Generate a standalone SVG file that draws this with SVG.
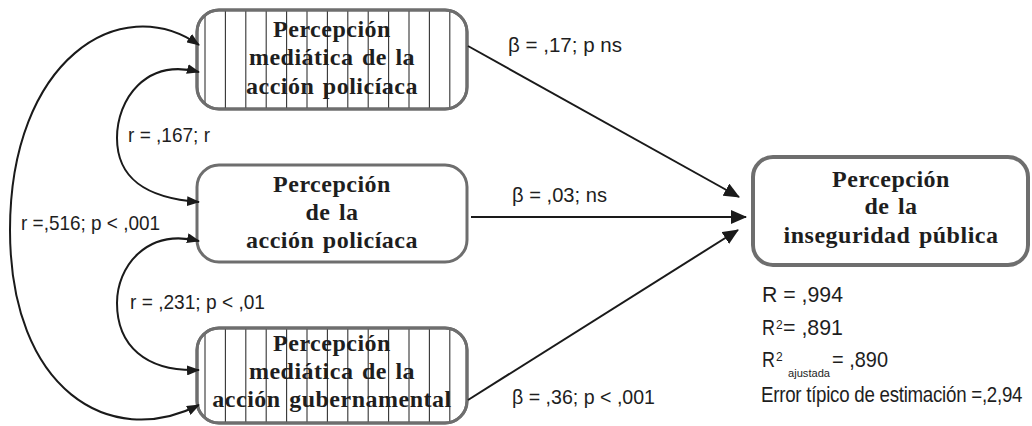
<svg xmlns="http://www.w3.org/2000/svg" width="1032" height="426" viewBox="0 0 1032 426">
<style>
.box{fill:#fff;stroke:#6e6e6e;stroke-width:3}
.box2{fill:#fff;stroke:#6e6e6e;stroke-width:4}
.hatch{stroke:#333;stroke-width:1.1}
.title{font-family:"Liberation Serif","Times New Roman",serif;font-weight:bold;font-size:24px;fill:#1e1e1e;text-anchor:middle;letter-spacing:0.5px;word-spacing:2px}
.lbl{font-family:"Liberation Sans Narrow","Liberation Sans",Arial,sans-serif;font-size:21px;fill:#1e1e1e}
.st{font-family:"Liberation Sans Narrow","Liberation Sans",Arial,sans-serif;font-size:22px;fill:#1e1e1e}
.sm{font-family:"Liberation Sans Narrow","Liberation Sans",Arial,sans-serif;font-size:12px;fill:#1e1e1e}
.xs{font-family:"Liberation Sans Narrow","Liberation Sans",Arial,sans-serif;font-size:10px;fill:#1e1e1e}
.edge{fill:none;stroke:#1a1a1a;stroke-width:2}
</style>
<defs>
<marker id="ah" viewBox="0 0 16 14" refX="15" refY="7" markerWidth="16" markerHeight="14" markerUnits="userSpaceOnUse" orient="auto"><path d="M0,0 L16,7 L0,14 z" fill="#1a1a1a"/></marker>
<marker id="as" viewBox="0 0 13 10" refX="12" refY="5" markerWidth="13" markerHeight="10" markerUnits="userSpaceOnUse" orient="auto-start-reverse"><path d="M0,0 L13,5 L0,10 z" fill="#1a1a1a"/></marker>
<clipPath id="c1"><rect x="197" y="10" width="270" height="99" rx="22"/></clipPath>
<clipPath id="c3"><rect x="197" y="328" width="270" height="95" rx="22"/></clipPath>
<g id="hl" class="hatch">
<line x1="205" y1="0" x2="205" y2="120"/><line x1="225.4" y1="0" x2="225.4" y2="120"/><line x1="245.8" y1="0" x2="245.8" y2="120"/><line x1="266.2" y1="0" x2="266.2" y2="120"/><line x1="286.6" y1="0" x2="286.6" y2="120"/><line x1="307" y1="0" x2="307" y2="120"/><line x1="327.4" y1="0" x2="327.4" y2="120"/><line x1="347.8" y1="0" x2="347.8" y2="120"/><line x1="368.2" y1="0" x2="368.2" y2="120"/><line x1="388.6" y1="0" x2="388.6" y2="120"/><line x1="409" y1="0" x2="409" y2="120"/><line x1="429.4" y1="0" x2="429.4" y2="120"/><line x1="449.8" y1="0" x2="449.8" y2="120"/>
</g>
</defs>
<rect width="1032" height="426" fill="#fff"/>

<g id="node-mediatica-policiaca">
<rect class="box" x="197" y="10" width="270" height="99" rx="22"/>
<g clip-path="url(#c1)"><use href="#hl" y="0"/></g>
<rect x="197" y="10" width="270" height="99" rx="22" fill="none" stroke="#6e6e6e" stroke-width="3"/>
<text class="title" x="332" y="37">Percepción</text>
<text class="title" x="332" y="65">mediática de la</text>
<text class="title" x="332" y="94">acción policíaca</text>
</g>

<g id="node-accion-policiaca">
<rect class="box" x="197" y="165" width="270" height="97" rx="22"/>
<text class="title" x="332" y="192">Percepción</text>
<text class="title" x="332" y="220">de la</text>
<text class="title" x="332" y="248">acción policíaca</text>
</g>

<g id="node-mediatica-gubernamental">
<rect class="box" x="197" y="328" width="270" height="95" rx="22"/>
<g clip-path="url(#c3)"><use href="#hl" y="318"/></g>
<rect x="197" y="328" width="270" height="95" rx="22" fill="none" stroke="#6e6e6e" stroke-width="3"/>
<text class="title" x="332" y="351">Percepción</text>
<text class="title" x="332" y="379">mediática de la</text>
<text class="title" x="332" y="407">acción gubernamental</text>
</g>

<g id="node-inseguridad">
<rect class="box2" x="753" y="157" width="275" height="108" rx="20"/>
<text class="title" x="891" y="187">Percepción</text>
<text class="title" x="891" y="214">de la</text>
<text class="title" x="891" y="243">inseguridad pública</text>
</g>

<g id="connectors">
<line class="edge" x1="468" y1="46" x2="739" y2="197" marker-end="url(#ah)"/>
<line class="edge" x1="471" y1="217" x2="746" y2="217" marker-end="url(#ah)"/>
<line class="edge" x1="468" y1="400" x2="738" y2="230" marker-end="url(#ah)"/>
<path class="edge" d="M199,45 C120,-10 10,60 10,230 C10,390 110,450 199,405" marker-start="url(#as)" marker-end="url(#as)"/>
<path class="edge" d="M199,72 C145,58 117,100 117,138 C117,178 145,198 199,202" marker-start="url(#as)" marker-end="url(#as)"/>
<path class="edge" d="M199,241 C145,228 117,268 117,303 C117,345 145,372 199,370" marker-start="url(#as)" marker-end="url(#as)"/>
</g>

<g id="labels">
<text class="lbl" x="508" y="52" textLength="114" lengthAdjust="spacingAndGlyphs">β = ,17; p ns</text>
<text class="lbl" x="512" y="202" textLength="95" lengthAdjust="spacingAndGlyphs">β = ,03; ns</text>
<text class="lbl" x="512" y="404" textLength="143" lengthAdjust="spacingAndGlyphs">β = ,36; p &lt; ,001</text>
<text class="lbl" x="128" y="142" textLength="82" lengthAdjust="spacingAndGlyphs">r = ,167; r</text>
<text class="lbl" x="21" y="230" textLength="139" lengthAdjust="spacingAndGlyphs">r =,516; p &lt; ,001</text>
<text class="lbl" x="130" y="309" textLength="135" lengthAdjust="spacingAndGlyphs">r = ,231; p &lt; ,01</text>
</g>

<g id="stats">
<text class="st" x="762" y="302" textLength="81" lengthAdjust="spacingAndGlyphs">R = ,994</text>
<text class="st" x="762" y="335" textLength="13" lengthAdjust="spacingAndGlyphs">R</text>
<text class="sm" x="776" y="329">2</text>
<text class="st" x="783" y="335" textLength="60" lengthAdjust="spacingAndGlyphs">= ,891</text>
<text class="st" x="762" y="367" textLength="13" lengthAdjust="spacingAndGlyphs">R</text>
<text class="sm" x="776" y="361">2</text>
<text class="xs" x="788" y="377" textLength="42" lengthAdjust="spacingAndGlyphs">ajustada</text>
<text class="st" x="832" y="367" textLength="56" lengthAdjust="spacingAndGlyphs">= ,890</text>
<text class="st" transform="translate(761,402) scale(0.85,1)" x="0" y="0" letter-spacing="-0.3">Error típico de estimación =,2,94</text>
</g>
</svg>
